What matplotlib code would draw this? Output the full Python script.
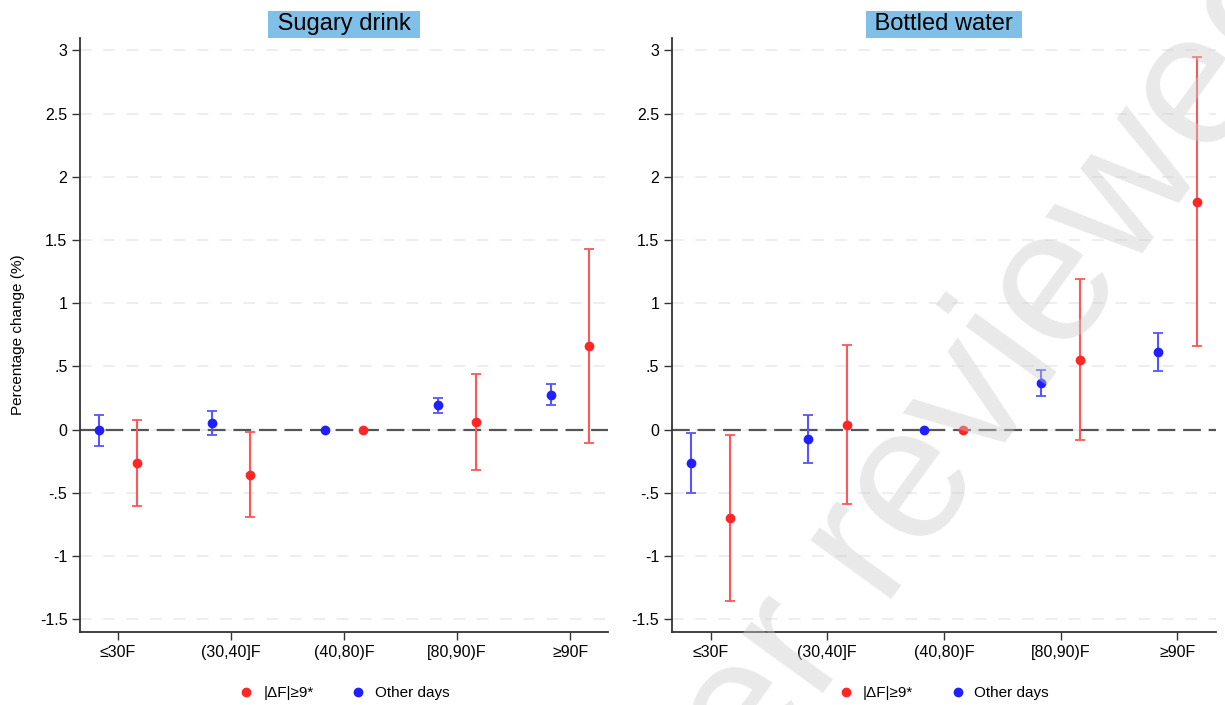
import numpy as np
import matplotlib
matplotlib.use("Agg")
import matplotlib.pyplot as plt
from matplotlib.lines import Line2D

plt.rcParams["font.family"] = ["Liberation Sans", "DejaVu Sans"]

nan = np.nan

# categories and tick labels
categories = ["≤30F", "(30,40]F", "(40,80)F", "[80,90)F", "≥90F"]
ytick_values = [-1.5, -1, -0.5, 0, 0.5, 1, 1.5, 2, 2.5, 3]
ytick_labels = ["-1.5", "-1", "-.5", "0", ".5", "1", "1.5", "2", "2.5", "3"]
panel_titles = ["Sugary drink", "Bottled water"]
legend_labels = ["|ΔF|≥9*", "Other days"]

# Sugary drink
sugary_ext_est = [-0.263, -0.357, 0.0, 0.062, 0.663]
sugary_ext_lo = [-0.605, -0.690, nan, -0.315, -0.104]
sugary_ext_hi = [0.076, -0.021, nan, 0.439, 1.430]
sugary_oth_est = [-0.006, 0.057, 0.0, 0.194, 0.278]
sugary_oth_lo = [-0.129, -0.040, nan, 0.133, 0.194]
sugary_oth_hi = [0.116, 0.150, nan, 0.252, 0.362]

# Bottled water
water_ext_est = [-0.700, 0.040, 0.0, 0.555, 1.802]
water_ext_lo = [-1.354, -0.588, nan, -0.078, 0.663]
water_ext_hi = [-0.044, 0.666, nan, 1.188, 2.945]
water_oth_est = [-0.265, -0.075, 0.0, 0.373, 0.611]
water_oth_lo = [-0.502, -0.264, nan, 0.270, 0.462]
water_oth_hi = [-0.025, 0.115, nan, 0.473, 0.761]

RED = "#ff2626"
RED_LINE = "#ff5757"
BLUE = "#1f1fff"
BLUE_LINE = "#5656ff"
TITLE_BG = "#80bfe7"

fig = plt.figure(figsize=(12.25, 7.05), dpi=100)
ax_l = fig.add_axes([0.0653, 0.1035, 0.4310, 0.8430])
ax_r = fig.add_axes([0.5483, 0.1035, 0.4444, 0.8430])

panels = [
    (ax_l, sugary_ext_est, sugary_ext_lo, sugary_ext_hi,
     sugary_oth_est, sugary_oth_lo, sugary_oth_hi),
    (ax_r, water_ext_est, water_ext_lo, water_ext_hi,
     water_oth_est, water_oth_lo, water_oth_hi),
]

x = np.arange(1, len(categories) + 1)
offset = 1 / 6

for i, (ax, e_est, e_lo, e_hi, o_est, o_lo, o_hi) in enumerate(panels):
    for est, lo, hi, xs, col, lcol in [
        (o_est, o_lo, o_hi, x - offset, BLUE, BLUE_LINE),
        (e_est, e_lo, e_hi, x + offset, RED, RED_LINE),
    ]:
        est = np.array(est)
        yerr = np.vstack([est - np.array(lo), np.array(hi) - est])
        ax.errorbar(xs, est, yerr=yerr, fmt="none", ecolor=lcol, elinewidth=1.5,
                    capsize=3.5, capthick=1.3, zorder=3)
        ax.plot(xs, est, "o", color=col, markersize=6, zorder=4)

    # grid and zero line
    for yv in ytick_values:
        ax.axhline(yv, color="#ebebeb", lw=1.2, linestyle=(0, (7, 7)), zorder=0)
    ax.axhline(0, color="#555555", lw=1.6, linestyle=(0, (8, 3.5)), zorder=2)

    ax.set_xlim(0.667, 5.333)
    ax.set_ylim(-1.6, 3.1)
    ax.set_xticks(x)
    ax.set_xticklabels(categories, fontsize=11.5)
    ax.set_yticks(ytick_values)
    ax.set_yticklabels(ytick_labels, fontsize=11.5)
    ax.tick_params(direction="out", length=6, width=1, color="#333333", pad=3)

    for side in ["top", "right"]:
        ax.spines[side].set_visible(False)
    for side in ["left", "bottom"]:
        ax.spines[side].set_color("#333333")
        ax.spines[side].set_linewidth(1.3)

    ax.text(0.5, 1.004, " " + panel_titles[i] + " ", transform=ax.transAxes,
            ha="center", va="bottom", fontsize=17,
            bbox=dict(boxstyle="square,pad=0.1", fc=TITLE_BG, ec="none"))

    handles = [
        Line2D([], [], marker="o", color=RED, linestyle="none", markersize=6),
        Line2D([], [], marker="o", color=BLUE, linestyle="none", markersize=6),
    ]
    ax.legend(handles, legend_labels, loc="center", bbox_to_anchor=(0.5, -0.103),
              ncol=2, frameon=False, fontsize=11, handlelength=1,
              handletextpad=0.6, columnspacing=2.4)

ax_l.set_ylabel("Percentage change (%)", fontsize=11)
ax_l.yaxis.set_label_coords(-0.105, 0.5)

# preprint watermark (only part of it falls inside the figure)
fig.text(0.5135, -0.3614, "peer reviewed", rotation=54, rotation_mode="anchor",
         ha="left", va="baseline", fontsize=137, color="#cccccc", alpha=0.42,
         zorder=10)

fig.savefig("out.png", dpi=100)
